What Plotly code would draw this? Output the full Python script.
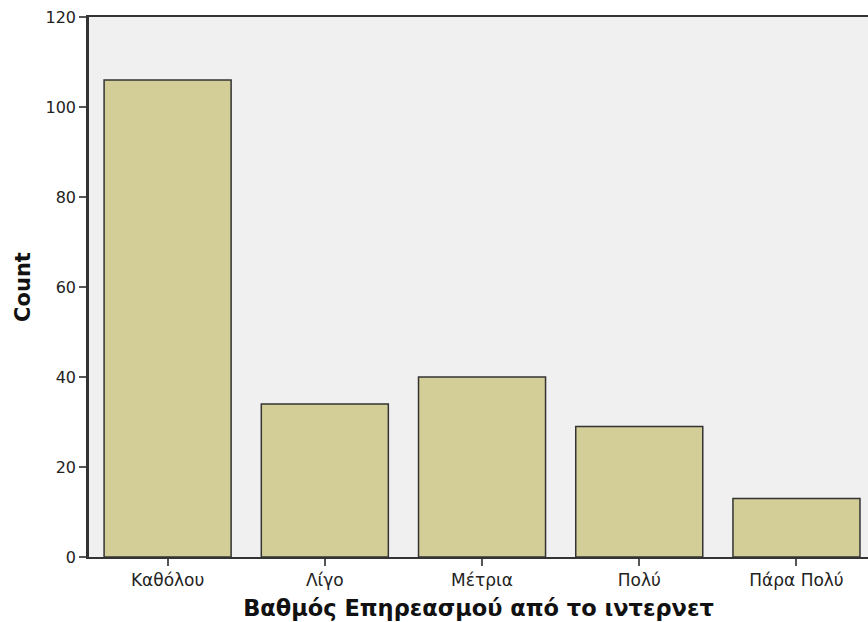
import plotly.graph_objects as go

categories = ["Καθόλου", "Λίγο", "Μέτρια", "Πολύ", "Πάρα Πολύ"]
counts = [106, 34, 40, 29, 13]
y_ticks = [0, 20, 40, 60, 80, 100, 120]

fig = go.Figure(go.Bar(
    x=categories, y=counts,
    marker=dict(color="#D3CE97", line=dict(color="#333333", width=1.5)),
    width=0.808,
))

fig.update_layout(
    width=868, height=622,
    margin=dict(l=89, r=0, t=17, b=65),
    paper_bgcolor="white", plot_bgcolor="#F0F0F0",
    font=dict(family="DejaVu Sans, Verdana, sans-serif", color="#222222", size=13),
    showlegend=False,
)
fig.update_xaxes(
    type="category", range=[-0.5, 4.455],
    showline=True, linecolor="#333333", linewidth=2, mirror=True,
    ticks="outside", ticklen=7, tickcolor="#555555", tickwidth=1.5,
    tickfont=dict(size=17, color="#222222"),
    title=dict(text="<b>Βαθμός Επηρεασμού από το ιντερνετ</b>", font=dict(size=22.5, color="#111111"), standoff=11),
    showgrid=False, zeroline=False,
)
fig.update_yaxes(
    range=[0, 120], tickvals=y_ticks,
    showline=True, linecolor="#333333", linewidth=2.5,
    ticks="outside", ticklen=7, tickcolor="#555555", tickwidth=1.5,
    tickfont=dict(size=16, color="#222222"),
    title=dict(text="<b>Count</b>", font=dict(size=21, color="#111111"), standoff=10),
    showgrid=False, zeroline=False,
)

fig.write_html(
    "out.html",
    config={"displayModeBar": False},
    post_script="document.body.style.margin='0';document.body.style.overflow='hidden';",
)
